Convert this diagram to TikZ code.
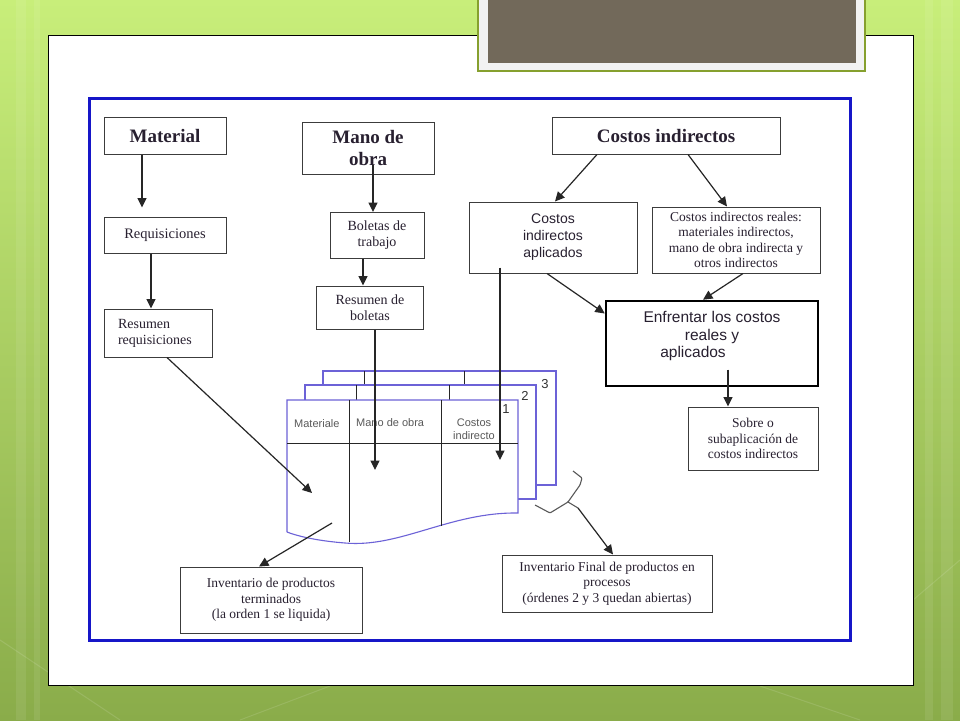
\documentclass[tikz,border=0pt]{standalone}
\usepackage{fontspec}
\setmainfont{Liberation Serif}
\newfontfamily\arialf{Liberation Sans}
\usetikzlibrary{arrows.meta}

\definecolor{fondoarriba}{RGB}{200,238,122}
\definecolor{fondoabajo}{RGB}{138,172,74}
\definecolor{titgris}{RGB}{114,105,90}
\definecolor{titverde}{RGB}{134,160,46}
\definecolor{marco}{RGB}{22,22,200}
\definecolor{hojaazul}{RGB}{108,98,215}
\definecolor{borde}{RGB}{60,60,60}
\definecolor{letra}{RGB}{40,32,48}

\begin{document}
\begin{tikzpicture}[x=1pt, y=1pt,
  caja/.style={draw=borde, line width=1pt, fill=white, align=center, inner sep=2pt, text=letra},
  titulo/.style={caja, font=\bfseries\fontsize{19}{22}\selectfont},
  texto/.style={caja, font=\fontsize{13.5}{15.5}\selectfont},
  sans/.style={caja, font=\arialf\fontsize{14}{17}\selectfont},
  flecha/.style={-{Triangle[length=9.5pt,width=9pt]}, line width=1.2pt, draw=black!85},
  hoja/.style={draw=hojaazul, line width=1.1pt, fill=white},
  col/.style={draw=black!85, line width=1pt},
  cabecera/.style={font=\arialf\fontsize{11}{12.5}\selectfont, text=black!65, inner sep=0pt, align=center},
  num/.style={font=\arialf\fontsize{13}{15}\selectfont, text=black!80, inner sep=0pt}
]
\useasboundingbox (0,0) rectangle (960,-720);

% fondo
\shade[top color=fondoarriba, bottom color=fondoabajo] (0,0) rectangle (960,-720);
\foreach \x/\w in {16/10, 34/6, 925/8, 941/12}
  \fill[white, opacity=0.08] (\x,0) rectangle (\x+\w,-720);
\draw[white, opacity=0.12, line width=1pt] (0,-640) -- (120,-720) (240,-720) -- (330,-686)
  (760,-686) -- (860,-720) (913,-600) -- (960,-560);

% hoja blanca y titulo
\draw[fill=white, line width=0.8pt] (48,-35) rectangle (913,-685);
\draw[fill=black!5, draw=titverde, line width=2pt] (478,5) rectangle (865,-71);
\fill[titgris] (488,5) rectangle (856,-63);
\draw[draw=marco, line width=3pt] (89,-98) rectangle (850,-640);

% cajas
\node[titulo, minimum width=122pt, minimum height=37pt] (mat) at (165,-135.5) {Material};
\node[titulo, minimum width=132pt, minimum height=52pt] (mano) at (368,-148) {Mano de\\obra};
\node[titulo, minimum width=228pt, minimum height=37pt] (ci) at (666,-135.5) {Costos indirectos};

\node[texto, font=\fontsize{14.5}{16}\selectfont, minimum width=122pt, minimum height=36pt] (req) at (165,-235) {Requisiciones};
\node[texto, font=\fontsize{14}{16}\selectfont, minimum width=94pt, minimum height=46pt] (bol) at (377,-235.5) {Boletas de\\trabajo};
\node[texto, font=\fontsize{14}{16}\selectfont, minimum width=107pt, minimum height=43pt] (resb) at (370,-307.5) {Resumen de\\boletas};
\node[texto, font=\fontsize{14}{16}\selectfont, align=left, minimum width=108pt, minimum height=48pt, text width=80pt] (resr) at (158,-333) {Resumen\\requisiciones};

\node[sans, minimum width=168pt, minimum height=71pt] (apl) at (553,-237.5) {Costos\\indirectos\\aplicados};
\node[texto, minimum width=168pt, minimum height=66pt] (real) at (736,-240) {Costos indirectos reales:\\materiales indirectos,\\mano de obra indirecta y\\otros indirectos};
\node[sans, font=\arialf\fontsize{15.5}{17.5}\selectfont, draw=black, line width=2.5pt, minimum width=212pt, minimum height=85pt] (enf) at (712,-343.5) {Enfrentar los costos\\reales y\\aplicados\mbox{\hspace{38pt}}\\\mbox{}};
\node[texto, minimum width=130pt, minimum height=63pt] (sob) at (753,-438.5) {Sobre o\\subaplicación de\\costos indirectos};

\node[texto, minimum width=182pt, minimum height=66pt] (invt) at (271,-600) {Inventario de productos\\terminados\\(la orden 1 se liquida)};
\node[texto, minimum width=210pt, minimum height=57pt] (invf) at (607,-583.5) {Inventario Final de productos en\\procesos\\(órdenes 2 y 3 quedan abiertas)};

% hojas de costos
\draw[hoja] (323,-371) rectangle (556,-485);
\draw[col] (364,-371) -- (364,-385) (464,-371) -- (464,-385);
\draw[hoja] (305,-385) rectangle (536,-499);
\draw[col] (356,-385) -- (356,-400) (449,-385) -- (449,-400);
\draw[hoja] (287,-532) -- (287,-400) -- (518,-400) -- (518,-513)
  .. controls (450,-512) and (400,-548) .. (345,-543)
  .. controls (320,-541) and (300,-537) .. (287,-532);
\draw[col] (287,-443) -- (518,-443) (349,-400) -- (349,-542) (441,-400) -- (441,-526);
\node[cabecera, anchor=west] (hmat) at (294,-424) {Materiale};
\node[cabecera, anchor=west] (hmano) at (356,-423) {Mano de obra};
\node[cabecera] (hci) at (474,-429) {Costos\\indirecto};
\node[num] (n1) at (506,-409) {1};
\node[num] (n2) at (525,-396) {2};
\node[num] (n3) at (545,-384) {3};

\coordinate (mat1) at (312,-493);
\coordinate (mat2) at (332,-523);
\coordinate (mano1) at (375,-470);
\coordinate (ind1) at (500,-460);
\coordinate (llave) at (578,-508);
\coordinate (manoarr) at ([shift={(5pt,-17pt)}]mano.center);
\coordinate (enfarr) at ([shift={(16pt,-26pt)}]enf.center);

% llave de ordenes 2 y 3
\draw[black!65, line width=1.1pt, rounded corners=1pt] (535,-505) -- (550,-513) -- (568,-502)
  -- (580,-485) -- (582,-478) -- (573,-471);
\draw[black!65, line width=1.1pt] (568,-502) -- (llave);

% flechas
\draw[flecha, shorten >=9pt] ([xshift=-23pt]mat.south) -- ([xshift=-23pt]mat.south |- req.north);
\draw[flecha] ([xshift=-14pt]req.south) -- ([xshift=-14pt]req.south |- resr.north);
\draw[flecha] (manoarr) -- (manoarr |- bol.north);
\draw[flecha] ([xshift=-14pt]bol.south) -- ([xshift=-14pt]bol.south |- resb.north);
\draw[flecha] ([xshift=5pt]resb.south) -- (mano1);
\draw[flecha] ([shift={(-53pt,-30pt)}]apl.center) -- (ind1);
\draw[flecha] ([xshift=-69pt]ci.south) -- ([xshift=2pt]apl.north);
\draw[flecha] ([xshift=22pt]ci.south) -- ([xshift=-9pt]real.north);
\draw[flecha] ([xshift=-6pt]apl.south) -- ([yshift=30pt]enf.west);
\draw[flecha] ([xshift=7pt]real.south) -- ([xshift=-9pt]enf.north);
\draw[flecha] (enfarr) -- (enfarr |- sob.north);
\draw[flecha] ([xshift=9pt]resr.south) -- (mat1);
\draw[flecha] (mat2) -- ([xshift=-12pt]invt.north);
\draw[flecha] (llave) -- ([xshift=6pt]invf.north);

\end{tikzpicture}
\end{document}
